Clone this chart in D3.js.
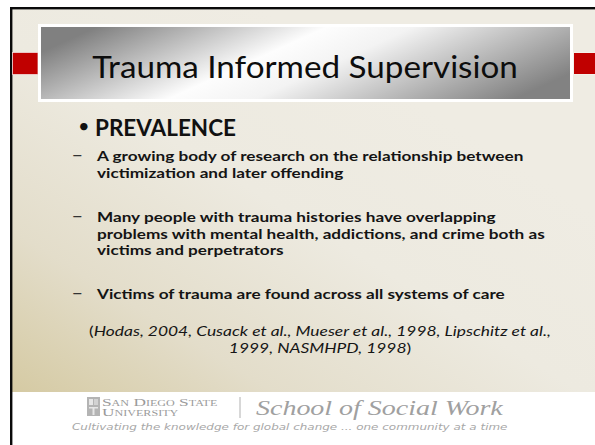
<!doctype html>
<html>
<head>
<meta charset="utf-8">
<title>Trauma Informed Supervision</title>
<style>
  html, body { margin: 0; padding: 0; background: #ffffff; }
  svg { display: block; }
</style>
</head>
<body>
<script src="https://d3js.org/d3.v7.min.js"></script>
<script>
// slide texts
var titleText = "Trauma Informed Supervision";
var headingText = "PREVALENCE";
var bulletItems = [
    ["A growing body of research on the relationship between",
     "victimization and later offending"],
    ["Many people with trauma histories have overlapping",
     "problems with mental health, addictions, and crime both as",
     "victims and perpetrators"],
    ["Victims of trauma are found across all systems of care"]
];
// citation lines: [text, italic?]
var citationLines = [
    [["(", false], ["Hodas, 2004, Cusack et al., Mueser et al., 1998, Lipschitz et al.,", true]],
    [["1999, NASMHPD, 1998", true], [")", false]]
];
var logoLines = ["San Diego State", "University"];
var schoolText = "School of Social Work";
var taglineText = "Cultivating the knowledge for global change ... one community at a time";

// layout
var W = 595, H = 445;
var sans = "Lato, 'Open Sans', sans-serif";
var itemBaselines = [161.5, 222, 299];
var lineGap = 16.6;

var svg = d3.select("body").append("svg")
    .attr("width", W)
    .attr("height", H);

var defs = svg.append("defs");

var bg = defs.append("linearGradient")
    .attr("id", "bg")
    .attr("x1", 0).attr("y1", 1)
    .attr("x2", 0.7).attr("y2", 0.25);
bg.append("stop").attr("offset", 0).attr("stop-color", "#d5caa3");
bg.append("stop").attr("offset", 0.3).attr("stop-color", "#e3ddca");
bg.append("stop").attr("offset", 0.65).attr("stop-color", "#edeae0");
bg.append("stop").attr("offset", 1).attr("stop-color", "#efece3");

var tg = defs.append("linearGradient")
    .attr("id", "titlegrad")
    .attr("x1", 0).attr("y1", 0.35)
    .attr("x2", 1).attr("y2", 0.65);
tg.append("stop").attr("offset", 0).attr("stop-color", "#808080");
tg.append("stop").attr("offset", 0.4).attr("stop-color", "#fdfdfd");
tg.append("stop").attr("offset", 0.55).attr("stop-color", "#f3f3f3");
tg.append("stop").attr("offset", 1).attr("stop-color", "#828282");

// beige slide area
svg.append("rect")
    .attr("x", 12).attr("y", 9)
    .attr("width", W - 12).attr("height", 392 - 9)
    .attr("fill", "url(#bg)");

// black frame lines (left and top)
svg.append("rect").attr("x", 10).attr("y", 7).attr("width", W - 10).attr("height", 2.4).attr("fill", "#0a0a0a");
svg.append("rect").attr("x", 10).attr("y", 7).attr("width", 2.4).attr("height", H - 7).attr("fill", "#0a0a0a");

// red side bars
svg.append("rect")
    .attr("x", 12.4).attr("y", 52.5)
    .attr("width", 25.6).attr("height", 22)
    .attr("fill", "#c00000")
    .attr("stroke", "#f2dada").attr("stroke-width", 0.8);
svg.append("rect")
    .attr("x", 573.5).attr("y", 52.5)
    .attr("width", 30).attr("height", 22)
    .attr("fill", "#c00000")
    .attr("stroke", "#f4f1ea").attr("stroke-width", 1);

// title box
svg.append("rect")
    .attr("x", 38).attr("y", 24)
    .attr("width", 535).attr("height", 78)
    .attr("fill", "#ffffff");
svg.append("rect")
    .attr("x", 41).attr("y", 27)
    .attr("width", 529).attr("height", 72)
    .attr("fill", "url(#titlegrad)");

// stretch a group of texts horizontally (about x0) so the widest fits target
function stretchX(sel, x0, target) {
    var w = 0;
    sel.each(function() { w = Math.max(w, this.getComputedTextLength()); });
    var s = target / w;
    sel.attr("transform", "translate(" + x0 + ",0) scale(" + s + ",1) translate(" + (-x0) + ",0)");
    return s;
}

var title = svg.append("text")
    .attr("x", 305).attr("y", 78)
    .attr("text-anchor", "middle")
    .attr("font-family", sans)
    .attr("font-size", 30.5)
    .attr("fill", "#0d0d0d")
    .text(titleText);
stretchX(title, 305, 426);

// heading
svg.append("text")
    .attr("x", 78).attr("y", 133)
    .attr("font-family", sans)
    .attr("font-size", 20)
    .attr("fill", "#111")
    .text("\u2022");
var heading = svg.append("text")
    .attr("x", 95).attr("y", 136)
    .attr("font-family", sans)
    .attr("font-weight", "bold")
    .attr("font-size", 23)
    .attr("fill", "#111")
    .text(headingText);
stretchX(heading, 95, 141);

// sub bullets
var items = svg.append("g").selectAll("g")
    .data(bulletItems)
    .join("g");

items.append("text")
    .attr("x", 71.5)
    .attr("y", function(d, i) { return itemBaselines[i] - 0.5; })
    .attr("font-family", sans)
    .attr("font-size", 20)
    .attr("fill", "#333")
    .text("\u2013");

var lines = items.selectAll("text.line")
    .data(function(d, i) { return d.map(function(t, j) { return { t: t, i: i, j: j }; }); })
    .join("text")
    .attr("class", "line")
    .attr("x", 97)
    .attr("y", function(d) { return itemBaselines[d.i] + d.j * lineGap; })
    .attr("font-family", sans)
    .attr("font-weight", "bold")
    .attr("font-size", 13)
    .attr("fill", "#141414")
    .text(function(d) { return d.t; });
// the widest line (2nd line of item 2) spans 97 -> 545
stretchX(lines, 97, 448);

// citation
var cites = svg.append("g").selectAll("text")
    .data(citationLines)
    .join("text")
    .attr("x", 320)
    .attr("y", function(d, i) { return 336.5 + i * 16.7; })
    .attr("text-anchor", "middle")
    .attr("font-family", sans)
    .attr("font-size", 12.8)
    .attr("fill", "#161616");
cites.selectAll("tspan")
    .data(function(d) { return d; })
    .join("tspan")
    .attr("font-style", function(d) { return d[1] ? "italic" : "normal"; })
    .text(function(d) { return d[0]; });
stretchX(cites, 320, 462);

// footer
var footer = svg.append("g");

// logo mark
var logo = footer.append("g").attr("transform", "translate(87,397)");
logo.append("rect").attr("width", 13).attr("height", 19).attr("fill", "#b4b4b4");
logo.append("rect").attr("x", 2).attr("y", 2).attr("width", 4).attr("height", 6).attr("fill", "#e6e6e6");
logo.append("rect").attr("x", 7).attr("y", 2).attr("width", 4).attr("height", 6).attr("fill", "#d2d2d2");
logo.append("rect").attr("x", 2).attr("y", 10).attr("width", 9).attr("height", 1.5).attr("fill", "#e6e6e6");
logo.append("rect").attr("x", 5.5).attr("y", 11).attr("width", 2).attr("height", 7).attr("fill", "#e6e6e6");

var logoText = footer.selectAll("text.logo")
    .data(logoLines)
    .join("text")
    .attr("class", "logo")
    .attr("x", 102)
    .attr("y", function(d, i) { return 406 + i * 10.5; })
    .attr("font-family", "'Liberation Serif', serif")
    .attr("font-size", 10.5)
    .style("font-variant", "small-caps")
    .attr("fill", "#9a9a9a")
    .text(function(d) { return d; });
stretchX(logoText, 102, 112);

footer.append("line")
    .attr("x1", 240).attr("x2", 240)
    .attr("y1", 397).attr("y2", 418)
    .attr("stroke", "#b0b0b0").attr("stroke-width", 1);

var school = footer.append("text")
    .attr("x", 256).attr("y", 415)
    .attr("font-family", "'Liberation Serif', serif")
    .attr("font-style", "italic")
    .attr("font-size", 22)
    .attr("fill", "#a0a0a0")
    .text(schoolText);
stretchX(school, 256, 247);

var tagline = footer.append("text")
    .attr("x", 72).attr("y", 430)
    .attr("font-family", "'DejaVu Sans', sans-serif")
    .attr("font-style", "italic")
    .attr("font-size", 9)
    .attr("fill", "#a8a8a8")
    .text(taglineText);
stretchX(tagline, 72, 436);
</script>
</body>
</html>
